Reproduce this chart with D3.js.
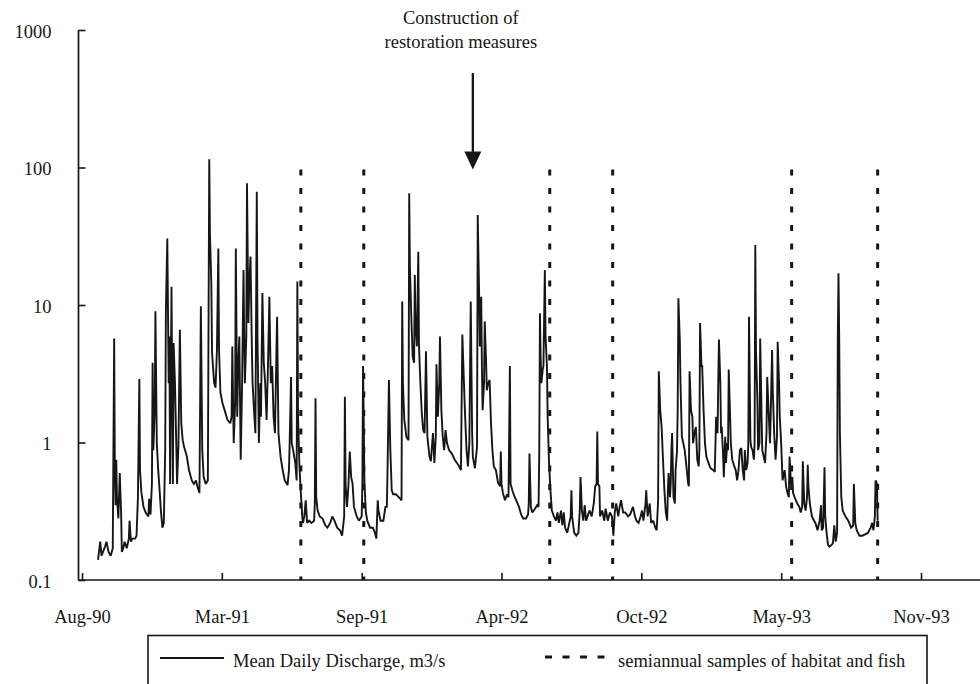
<!DOCTYPE html>
<html>
<head>
<meta charset="utf-8">
<script src="https://cdn.jsdelivr.net/npm/d3@7/dist/d3.min.js"></script>
<style>
  html, body { margin: 0; padding: 0; background: #fff; }
  svg { display: block; }
  text { font-family: "Liberation Serif", "Times New Roman", serif; fill: #161616; }
</style>
</head>
<body>
<svg id="chart" width="980" height="684"></svg>
<script>
// ---------------- data ----------------
const recordStart = "1990-09-01";           // day 0 of the discharge record
// [day of record, mean daily discharge m3/s]
const discharge = [
[6,0.14],[9,0.19],[11,0.15],[13,0.16],[16,0.175],[18,0.19],[21,0.16],[24,0.15],[27,0.17],[29,5.7],[30,0.6],[31,0.35],[32,0.75],[33,0.4],[35,0.28],[37,0.6],[39,0.3],[40,0.16],[42,0.17],[44,0.19],[47,0.17],[50,0.2],[51,0.27],[53,0.19],[55,0.2],[59,0.2],[61,0.21],[63,0.4],[65,2.9],[66,0.63],[68,0.43],[71,0.34],[74,0.31],[78,0.29],[79,0.39],[81,0.3],[83,0.5],[84,3.8],[85,0.88],[87,1.7],[88,9.0],[90,0.99],[92,0.63],[94,0.45],[96,0.31],[98,0.24],[100,0.26],[102,0.88],[103,9.2],[105,30.5],[107,2.7],[108,5.9],[109,0.5],[111,13.6],[113,0.5],[114,5.3],[116,2.7],[117,1.54],[119,0.5],[121,0.99],[123,6.6],[125,1.38],[127,1.04],[129,0.93],[133,0.79],[136,0.63],[140,0.53],[143,0.5],[146,0.53],[148,0.48],[151,0.43],[153,9.8],[155,0.88],[157,0.56],[160,0.5],[163,0.53],[165,115],[166,33],[168,14],[169,4.5],[172,2.7],[174,2.5],[176,4.7],[178,25.8],[179,4.7],[181,2.3],[184,1.93],
[187,1.72],[191,1.46],[195,1.38],[197,1.54],[198,5.0],[200,0.99],[202,1.93],[203,25.8],[205,1.54],[206,3.0],[208,5.9],[210,0.75],[212,2.7],[214,18],[215,5.9],[216,2.7],[218,5.9],[219,76.7],[221,7.4],[222,12.9],[224,22.5],[226,4.7],[227,2.7],[229,1.72],[231,1.17],[233,66.7],[234,5.9],[236,0.99],[238,2.7],[239,1.54],[241,12.2],[243,3.8],[245,2.7],[247,1.46],[249,3.6],[251,11.5],[253,2.7],[255,3.6],[257,1.54],[259,1.17],[262,8.2],[264,1.17],[267,0.79],[270,0.63],[273,0.53],[277,0.49],[279,0.63],[280,0.99],[282,3.0],[283,0.99],[285,0.88],[288,0.71],[290,0.53],[291,14.8],[292,1.54],[294,0.67],[296,0.43],[298,0.29],[299,0.26],[301,0.29],[303,0.38],[305,0.26],[308,0.27],[311,0.26],[315,0.27],[316,0.36],[317,2.1],[318,0.4],[320,0.32],[323,0.29],[327,0.28],[331,0.25],[334,0.24],[338,0.26],[341,0.29],[344,0.27],[348,0.24],[352,0.23],[355,0.21],[358,0.29],[359,2.15],[360,0.5],[362,0.34],[364,0.48],[366,0.86],[368,0.56],[370,0.5],
[372,0.34],[376,0.29],[379,0.27],[383,0.29],[384,0.5],[385,3.6],[387,0.5],[389,0.31],[391,0.27],[395,0.24],[399,0.24],[402,0.22],[404,0.2],[406,0.38],[407,0.32],[410,0.27],[414,0.27],[417,0.34],[419,0.34],[420,0.63],[422,2.85],[424,0.88],[426,0.45],[428,0.42],[432,0.42],[436,0.4],[440,0.38],[441,10.6],[442,2.7],[444,1.46],[447,1.1],[450,1.04],[451,64.9],[452,19],[454,8.2],[456,4.2],[458,3.8],[459,16.5],[460,7.4],[462,5.0],[464,24.4],[465,5.0],[467,2.7],[469,1.63],[471,1.23],[473,1.17],[475,4.6],[477,1.1],[480,0.79],[482,0.73],[485,1.17],[487,0.71],[489,1.1],[490,3.7],[492,1.54],[494,2.7],[495,5.9],[497,1.72],[499,1.1],[501,0.88],[503,1.23],[505,0.99],[508,0.88],[512,0.83],[516,0.75],[521,0.69],[525,0.63],[527,6.1],[529,3.0],[531,1.54],[533,0.88],[535,0.67],[537,0.99],[539,10.6],[541,1.17],[542,0.79],[545,0.65],[548,0.93],[549,45.2],[551,12],[552,5],[554,11.5],[555,3.5],[556,1.72],[558,2.7],[559,7.6],[561,3.8],[562,2.4],[564,2.7],[566,2.85],[568,1.38],[570,0.88],[572,0.67],[575,0.63],[578,0.51],[581,0.48],[582,0.86],[583,0.5],[585,0.43],[588,0.38],[591,0.42],[593,0.4],[595,3.6],[596,0.5],[599,0.44],[602,0.4],[605,0.37],[608,0.34],[611,0.3],[614,0.28],[618,0.28],[621,0.3],[622,0.36],[623,0.83],[625,0.34],[627,0.31],[631,0.33],[634,0.35],[636,0.34],[637,0.83],[638,8.7],[639,4.2],[640,2.7],[642,3.4],[643,3.6],[645,18],[646,5.9],[648,3.6],[649,1.54],[651,0.71],[653,0.45],[655,0.32],[658,0.29],[661,0.27],[663,0.31],[665,0.26],[668,0.32],[670,0.25],[672,0.31],[674,0.24],[677,0.22],[680,0.26],[682,0.29],[683,0.45],[684,0.29],[687,0.22],[690,0.21],[693,0.22],[695,0.32],[696,0.56],[698,0.32],[700,0.27],[702,0.35],[704,0.27],[707,0.3],[709,0.32],[712,0.29],[715,0.36],[717,0.48],[719,0.5],[720,1.2],[721,0.5],[723,0.48],[724,0.29],[727,0.32],[730,0.27],[732,0.33],[735,0.27],[738,0.31],[741,0.29],
[743,0.21],[745,0.31],[747,0.36],[750,0.29],[752,0.34],[754,0.38],[757,0.31],[760,0.31],[764,0.29],[767,0.3],[771,0.34],[774,0.29],[776,0.27],[779,0.26],[782,0.29],[784,0.32],[786,0.27],[789,0.36],[790,0.45],[792,0.29],[795,0.36],[797,0.26],[800,0.27],[803,0.24],[805,0.23],[807,0.38],[808,3.3],[810,1.72],[812,1.3],[814,0.75],[816,0.45],[818,0.31],[820,0.27],[821,0.45],[822,0.6],[824,0.4],[825,0.5],[826,0.88],[827,1.17],[829,0.4],[831,0.36],[832,0.63],[834,0.86],[835,1.72],[836,11.2],[838,5.6],[839,2.7],[841,1.1],[843,0.99],[845,0.88],[847,0.71],[850,0.5],[851,0.48],[852,3.3],[854,1.72],[856,1.54],[857,0.99],[859,1.17],[861,1.3],[863,0.75],[865,0.67],[866,0.88],[867,7.4],[869,3.6],[870,3.6],[872,1.72],[874,0.99],[876,0.79],[879,0.71],[882,0.65],[886,0.63],[888,0.61],[890,1.54],[892,1.17],[893,2.7],[894,5.6],[896,2.7],[897,1.17],[898,1.3],[900,0.79],[901,0.56],[903,1.1],[904,0.71],[906,0.99],[907,0.88],[908,3.4],[910,1.54],[911,0.99],[913,0.75],[916,0.67],[918,0.63],[920,0.53],[922,0.63],[924,0.88],[926,0.91],[928,0.63],
[930,0.53],[931,0.88],[933,0.63],[935,0.71],[936,0.99],[937,8.2],[939,1.04],[940,0.93],[942,0.88],[944,0.75],[945,0.99],[946,27.3],[947,4.7],[949,2.0],[950,0.88],[952,0.99],[953,5.7],[955,1.54],[956,0.88],[958,0.79],[960,0.71],[962,1.17],[963,3.0],[965,1.72],[967,0.99],[968,1.54],[970,4.7],[971,2.4],[973,1.17],[975,0.75],[977,1.1],[978,5.4],[980,2.7],[981,1.54],[983,0.99],[985,0.53],[988,0.63],[990,0.48],[992,0.43],[994,0.4],[995,0.79],[997,0.5],[999,0.56],[1000,0.43],[1003,0.39],[1006,0.36],[1009,0.34],[1011,0.31],[1013,0.34],[1014,0.73],[1016,0.36],[1018,0.32],[1020,0.4],[1021,0.69],[1022,0.48],[1024,0.36],[1027,0.29],[1030,0.27],[1032,0.26],[1035,0.23],[1038,0.27],[1040,0.35],[1041,0.23],[1043,0.24],[1045,0.66],[1046,0.29],[1048,0.22],[1050,0.18],[1052,0.175],[1055,0.18],[1057,0.185],[1059,0.25],[1061,0.19],[1063,0.22],[1064,5.9],[1065,17],[1066,5.9],[1067,1.17],[1069,0.4],[1071,0.32],[1075,0.29],[1079,0.27],[1083,0.24],[1086,0.25],[1087,0.5],[1089,0.26],[1091,0.23],[1095,0.21],[1099,0.21],[1103,0.215],[1107,0.22],[1111,0.24],[1113,0.26],[1115,0.23],[1117,0.29],[1118,0.53],[1120,0.5],[1121,0.27]
];
const sampleDates = ["1991-06-24","1991-09-22","1992-06-14","1992-09-12","1993-05-26","1993-09-26"];
const xTickDates = ["1990-08-15","1991-03-03","1991-09-19","1992-04-06","1992-10-23","1993-05-11","1993-11-27"];
const yTickValues = [0.1, 1, 10, 100, 1000];
const constructionDate = "1992-02-25";
const annotationLines = ["Construction of", "restoration measures"];
const legendLabels = ["Mean Daily Discharge, m3/s", "semiannual samples of habitat and fish"];

// ---------------- chart ----------------
const parse = d3.utcParse("%Y-%m-%d");
const day0 = parse(recordStart);
const series = discharge.map(([d, v]) => ({ date: d3.utcDay.offset(day0, d), value: v }));

const svg = d3.select("#chart");
const ink = "#161616";
const fs = "18.5px";

const x = d3.scaleUtc()
  .domain([parse(xTickDates[0]), parse(xTickDates[xTickDates.length - 1])])
  .range([82, 921]);
const y = d3.scaleLog().domain([0.1, 1000]).range([580, 30]);

// sample dotted lines
svg.append("g").selectAll("line").data(sampleDates).join("line")
  .attr("x1", d => x(parse(d))).attr("x2", d => x(parse(d)))
  .attr("y1", y(100) + 2).attr("y2", y(0.1))
  .attr("stroke", ink).attr("stroke-width", 3)
  .attr("stroke-dasharray", "6,12.5");

// discharge line
svg.append("path").datum(series)
  .attr("fill", "none").attr("stroke", ink).attr("stroke-width", 1.9)
  .attr("stroke-linejoin", "miter").attr("stroke-miterlimit", 2)
  .attr("d", d3.line().x(d => x(d.date)).y(d => y(d.value)));

// y axis
const yAxis = d3.axisLeft(y).tickValues(yTickValues)
  .tickFormat(d => d3.format("~g")(d))
  .tickSizeInner(-7).tickSizeOuter(0).tickPadding(27);
const gy = svg.append("g").attr("transform", "translate(78.5,0)").call(yAxis);
gy.select(".domain").remove();
gy.selectAll(".tick line").attr("stroke", ink).attr("stroke-width", 1.6);
gy.selectAll(".tick text").attr("font-size", fs).attr("dy", "0.4em")
  .attr("font-family", "Liberation Serif").attr("fill", ink);
svg.append("line").attr("x1", 78.5).attr("x2", 78.5).attr("y1", y(1000)).attr("y2", y(0.1))
  .attr("stroke", ink).attr("stroke-width", 1.7);

// x axis
const xAxis = d3.axisBottom(x).tickValues(xTickDates.map(parse))
  .tickFormat(d3.utcFormat("%b-%y"))
  .tickSizeInner(-7).tickSizeOuter(0).tickPadding(30);
const gx = svg.append("g").attr("transform", "translate(0,580)").call(xAxis);
gx.select(".domain").remove();
gx.selectAll(".tick line").attr("stroke", ink).attr("stroke-width", 1.6);
gx.selectAll(".tick text").attr("font-size", fs)
  .attr("font-family", "Liberation Serif").attr("fill", ink);
svg.append("line").attr("x1", 78).attr("x2", 980).attr("y1", 580).attr("y2", 580)
  .attr("stroke", ink).attr("stroke-width", 1.7);

// annotation
const ax = x(parse(constructionDate));
svg.append("g").selectAll("text").data(annotationLines).join("text")
  .attr("x", ax - 12).attr("y", (d, i) => 24 + i * 24)
  .attr("text-anchor", "middle").attr("font-size", fs).text(d => d);
const tipY = y(100) + 2;
svg.append("line").attr("x1", ax).attr("x2", ax).attr("y1", 73).attr("y2", tipY - 16)
  .attr("stroke", ink).attr("stroke-width", 2.3);
svg.append("path")
  .attr("d", `M${ax - 8.5},${tipY - 18} L${ax + 8.5},${tipY - 18} L${ax},${tipY} Z`)
  .attr("fill", ink);

// legend
const lg = svg.append("g");
lg.append("rect").attr("x", 148).attr("y", 635.5).attr("width", 779).attr("height", 70)
  .attr("fill", "none").attr("stroke", ink).attr("stroke-width", 1.6);
lg.append("line").attr("x1", 160).attr("x2", 224).attr("y1", 658).attr("y2", 658)
  .attr("stroke", ink).attr("stroke-width", 1.9);
lg.append("text").attr("x", 233).attr("y", 667).attr("font-size", fs).text(legendLabels[0]);
lg.append("line").attr("x1", 545).attr("x2", 606).attr("y1", 657).attr("y2", 657)
  .attr("stroke", ink).attr("stroke-width", 3).attr("stroke-dasharray", "7,10.5");
lg.append("text").attr("x", 618).attr("y", 667).attr("font-size", fs).text(legendLabels[1]);
</script>
</body>
</html>
